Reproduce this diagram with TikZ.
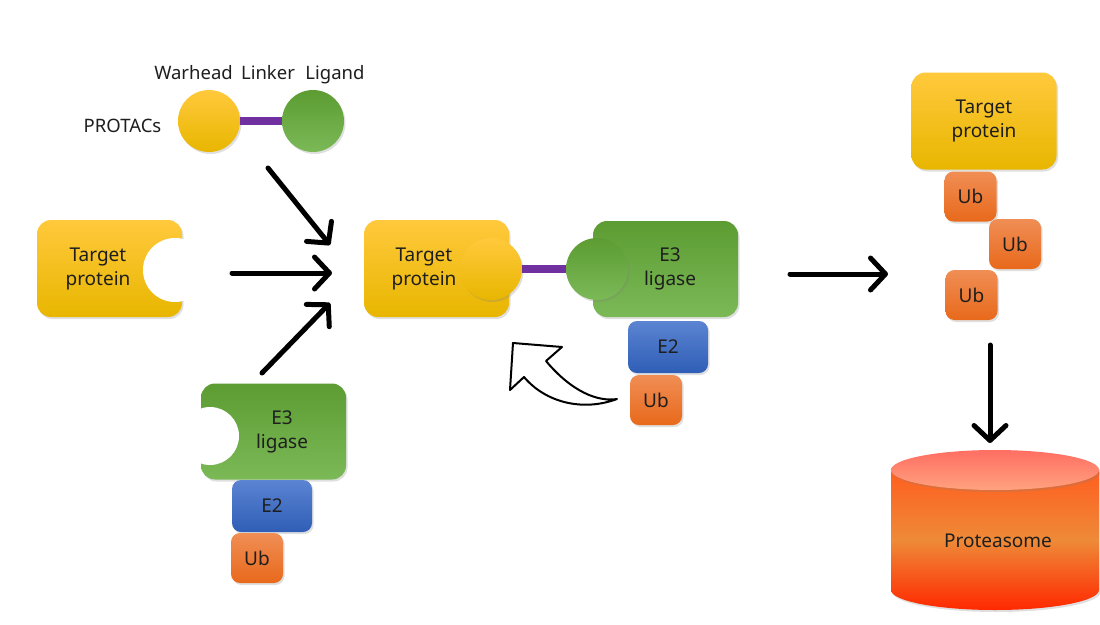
\documentclass[tikz,border=0pt]{standalone}
\usepackage{fontspec}
\setmainfont{Noto Sans}
\usetikzlibrary{arrows.meta,shadows}
\definecolor{tpTop}{HTML}{FFC93C}
\definecolor{tpBot}{HTML}{E8B600}
\definecolor{eTop}{HTML}{5C9C32}
\definecolor{eBot}{HTML}{7BB957}
\definecolor{bTop}{HTML}{5B84D2}
\definecolor{bBot}{HTML}{2F5EB6}
\definecolor{uTop}{HTML}{F08E55}
\definecolor{uBot}{HTML}{E8691B}
\definecolor{pTop}{HTML}{FF5E1F}
\definecolor{pMid}{HTML}{EE8A38}
\definecolor{pBot}{HTML}{FF2800}
\definecolor{lidTop}{HTML}{FF6E62}
\definecolor{lidBot}{HTML}{FFA27F}
\definecolor{linkc}{HTML}{7030A0}
\definecolor{inkc}{HTML}{1E1E1E}
\tikzset{
  shade/.style={drop shadow={shadow xshift=1.5pt,shadow yshift=-2pt,opacity=0.25}},
  box/.style={rounded corners=14pt,inner sep=0pt,align=center,text=inkc,
    font=\fontsize{19}{24}\selectfont,shade},
  target/.style={box,top color=tpTop,bottom color=tpBot,minimum width=145pt,minimum height=97pt},
  ligase/.style={box,top color=eTop,bottom color=eBot,minimum width=145pt,minimum height=96pt},
  etwo/.style={box,rounded corners=9pt,top color=bTop,bottom color=bBot,minimum width=80pt,minimum height=52pt},
  ubq/.style={box,rounded corners=9pt,top color=uTop,bottom color=uBot,minimum width=52pt,minimum height=50pt},
  warhead/.style={circle,inner sep=0pt,minimum size=62pt,top color=tpTop,bottom color=tpBot,shade},
  ligand/.style={circle,inner sep=0pt,minimum size=62pt,top color=eTop,bottom color=eBot,shade},
  notch/.style={circle,inner sep=0pt,fill=white,minimum size=#1},
  lbl/.style={align=center,text=inkc,font=\fontsize{19}{24}\selectfont},
  small/.style={text=inkc,inner sep=0pt,anchor=base,font=\fontsize{18.5}{22}\selectfont},
  linker/.style={draw=linkc,line width=8pt},
  bigarrow/.style={-{Straight Barb[length=15pt,width=32pt,round]},line width=5pt,line cap=round,line join=round},
}
\begin{document}
\begin{tikzpicture}[x=1pt,y=-1pt]
\useasboundingbox (0,0) rectangle (1100,624);

\node[small] (whlbl) at (193.5,79) {Warhead};
\node[small] (lklbl) at (268,79) {Linker};
\node[small] (lglbl) at (335,79) {Ligand};
\node[small] (protac) at (122.5,132) {PROTACs};
\node[warhead] (wh) at (209,121) {};
\node[ligand] (lg) at (313,121) {};
\draw[linker] (wh.east) -- (lg.west);

\node[target] (tp) at (109.5,268.5) {};
\node[notch=64pt] (tpslot) at (175,270) {};
\node[lbl] at ([xshift=-11.5pt]tp.center) {Target\\protein};

\node[ligase] (lig) at (273.5,431.5) {};
\node[notch=58pt] (ligslot) at (210,436) {};
\node[lbl] at ([xshift=8.5pt]lig.center) {E3\\ligase};
\node[etwo] (etwo) at (272,506) {E2};
\node[ubq] (ub) at (257,558) {Ub};

\node[target] (tpc) at (436.5,268.5) {};
\node[lbl] at ([xshift=-12.5pt]tpc.center) {Target\\protein};
\node[ligase] (ligc) at (665.5,269) {};
\node[lbl] at ([xshift=4.5pt]ligc.center) {E3\\ligase};
\node[etwo] (etwoc) at (668,347) {E2};
\node[ubq] (ubc) at (656,400) {Ub};
\node[warhead] (whc) at (491,269) {};
\node[ligand] (lgc) at (597,269) {};
\draw[linker] (whc.east) -- (lgc.west);

\node[target] (tpu) at (984,121) {Target\\protein};
\node[ubq] (ubu1) at (970.5,196.5) {Ub};
\node[ubq] (ubu2) at (1015,244) {Ub};
\node[ubq] (ubu3) at (971.5,295) {Ub};

\shade[top color=pTop,bottom color=pBot,middle color=pMid]
  (891,470) -- (891,590) arc[start angle=180,end angle=0,x radius=104,y radius=20]
  -- (1099,470) -- cycle;
\shade[top color=lidTop,bottom color=lidBot]
  (995,470) ellipse[x radius=104,y radius=20];
\node[lbl] (prot) at (998,541) {Proteasome};

\coordinate (a1s) at (268,168);
\coordinate (a1e) at (330,245);
\coordinate (a2s) at (232,273);
\coordinate (a2e) at (332,273);
\coordinate (a3s) at (262,373);
\coordinate (a3e) at (330,303);
\coordinate (a4s) at (790,274);
\coordinate (a4e) at (888,274);
\coordinate (a5s) at (990,345);
\coordinate (a5e) at (990,443);
\draw[bigarrow] (a1s) -- (a1e);
\draw[bigarrow] (a2s) -- (a2e);
\draw[bigarrow] (a3s) -- (a3e);
\draw[bigarrow] (a4s) -- (a4e);
\draw[bigarrow] (a5s) -- (a5e);

\draw[line width=2pt,line join=round,fill=white] (513,343) -- (562,347) -- (546,361)
  .. controls (572,392) and (598,402) .. (617,399)
  .. controls (582,412) and (545,402) .. (524,377) -- (510,390) -- cycle;
\end{tikzpicture}
\end{document}
